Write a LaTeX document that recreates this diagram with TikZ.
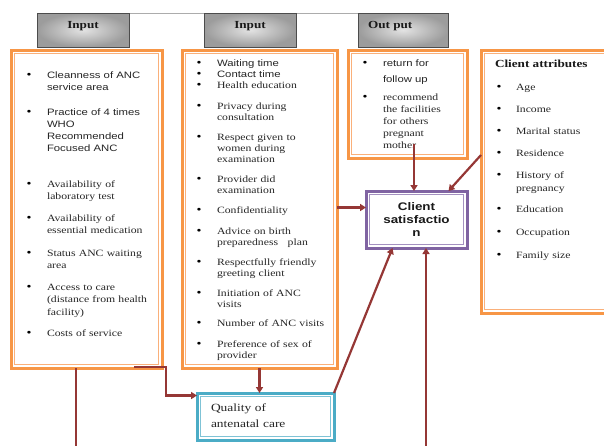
\documentclass[tikz,border=0pt]{standalone}
\usepackage{fontspec}
\setmainfont{Liberation Serif}[FakeStretch=1.22]
\setsansfont{Liberation Sans}[FakeStretch=1.22]
\usetikzlibrary{arrows.meta}
\definecolor{org}{HTML}{F79646}
\definecolor{orgl}{HTML}{FAB07A}
\definecolor{pur}{HTML}{8064A2}
\definecolor{purl}{HTML}{A491C0}
\definecolor{blu}{HTML}{4BACC6}
\definecolor{blul}{HTML}{7FC3D6}
\definecolor{arrc}{HTML}{953735}
\definecolor{txtc}{HTML}{262626}
\begin{document}
\begin{tikzpicture}[x=1pt,y=-1pt,
  every node/.style={inner sep=0pt,outer sep=0pt},
  hdr/.style={draw=gray!60!black,line width=0.8pt,inner color=gray!22,outer color=gray!78,anchor=north west},
  obox/.style={draw=org,line width=3pt,anchor=north west},
  pbox/.style={draw=pur,line width=3pt,anchor=north west,fill=white},
  bbox/.style={draw=blu,line width=3pt,anchor=north west,fill=white},
  inl/.style={line width=1.1pt},
  itm/.style={anchor=base west,text width=150pt,align=left,text=txtc},
  bul/.style={anchor=base,text=black,font=\fontsize{11.5}{12}\selectfont},
  ser/.style={font=\fontsize{9.6}{#1}\selectfont},
  sans/.style={font=\sffamily\fontsize{9.3}{#1}\selectfont},
  conn/.style={draw=arrc,line width=2.2pt},
  arw/.style={conn,-{Triangle[length=6pt,width=7pt]}},
  hdrtxt/.style={anchor=base,font=\bfseries\fontsize{10.8}{12}\selectfont,text=black!90}
]
\clip (0,0) rectangle (604,445);
\fill[white] (0,0) rectangle (604,445);

% top connecting line
\draw[gray!65,line width=1.8pt] (37,13.5) -- (448,13.5);

% header boxes
\node[hdr,minimum width=92pt,minimum height=34pt] (h1) at (37,13) {};
\node[hdr,minimum width=92pt,minimum height=34pt] (h2) at (204,13) {};
\node[hdr,minimum width=90pt,minimum height=34pt] (h3) at (358,13) {};
\node[hdrtxt] (h1t) at (83,28) {Input};
\node[hdrtxt] (h2t) at (250,28) {Input};
\node[hdrtxt,anchor=base west] (h3t) at (368,28) {Out put};

% main boxes
\node[obox,minimum width=151pt,minimum height=318pt] (in1) at (11,50) {};
\node[obox,minimum width=155pt,minimum height=318pt] (in2) at (182,50) {};
\node[obox,minimum width=119pt,minimum height=108pt] (outb) at (348,50) {};
\node[obox,minimum width=131pt,minimum height=263pt] (attr) at (481,50) {};
\node[pbox,minimum width=101pt,minimum height=57pt] (sat) at (366,191) {};
\node[bbox,minimum width=137pt,minimum height=47pt] (q) at (197,393) {};

% inner borders
\draw[inl,draw=orgl] ([shift={(3.6,3.6)}]in1.north west) rectangle ([shift={(-3.6,-3.6)}]in1.south east);
\draw[inl,draw=orgl] ([shift={(3.6,3.6)}]in2.north west) rectangle ([shift={(-3.6,-3.6)}]in2.south east);
\draw[inl,draw=orgl] ([shift={(3.6,3.6)}]outb.north west) rectangle ([shift={(-3.6,-3.6)}]outb.south east);
\draw[inl,draw=orgl] ([shift={(3.6,3.6)}]attr.north west) rectangle ([shift={(-3.6,-3.6)}]attr.south east);
\draw[inl,draw=purl] ([shift={(3.6,3.6)}]sat.north west) rectangle ([shift={(-3.6,-3.6)}]sat.south east);
\draw[inl,draw=blul] ([shift={(3.6,3.6)}]q.north west) rectangle ([shift={(-3.6,-3.6)}]q.south east);

% left box items
\foreach \y/\tx [count=\i] in {78/{Cleanness of ANC\\service area},115/{Practice of 4 times\\WHO\\Recommended\\Focused ANC}}{
  \node[bul] (lb\i) at (29,\y) {\textbullet};
  \node[itm,sans=12.3] (lt\i) at (47,\y) {\tx};
}
\foreach \y/\tx [count=\i from 3] in {187/{Availability of\\laboratory test},221/{Availability of\\essential medication},256/{Status ANC waiting\\area},290/{Access to care\\(distance from health\\facility)},336/{Costs of service}}{
  \node[bul] (lb\i) at (29,\y) {\textbullet};
  \node[itm,ser=12.5] (lt\i) at (47,\y) {\tx};
}

% second box items
\foreach \y/\tx [count=\i] in {66/{Waiting time},77/{Contact time}}{
  \node[bul] (mb\i) at (199,\y) {\textbullet};
  \node[itm,sans=11] (mt\i) at (217,\y) {\tx};
}
\foreach \y/\tx [count=\i from 3] in {88/{Health education},109/{Privacy during\\consultation},140/{Respect given to\\women during\\examination},182/{Provider did\\examination},213/{Confidentiality},234/{Advice on birth\\preparedness\quad plan},265/{Respectfully friendly\\greeting client},296/{Initiation of ANC\\visits},326/{Number of ANC visits},347/{Preference of sex of\\provider}}{
  \node[bul] (mb\i) at (199,\y) {\textbullet};
  \node[itm,ser=11] (mt\i) at (217,\y) {\tx};
}

% output box items
\node[bul] (ob1) at (365,66) {\textbullet};
\node[itm,sans=16] (ot1) at (383,66) {return for\\follow up};
\node[bul] (ob2) at (365,100) {\textbullet};
\node[itm,ser=12] (ot2) at (383,100) {recommend\\the facilities\\for others\\pregnant\\mother};

% client attributes
\node[anchor=base west,font=\bfseries\fontsize{10.8}{12}\selectfont,text=black!90] (at0) at (495,67) {Client attributes};
\foreach \y/\tx [count=\i] in {90/Age,112/Income,134/{Marital status},156/Residence,178/{History of\\pregnancy},212/Education,235/Occupation,258/{Family size}}{
  \node[bul] (ab\i) at (499,\y) {\textbullet};
  \node[itm,ser=13,text width=90pt] (at\i) at (516,\y) {\tx};
}

% satisfaction and quality text
\node[align=center,font=\sffamily\bfseries\fontsize{11}{13}\selectfont,text=black!90] (satt) at (sat.center) {Client\\satisfactio\\n};
\node[itm,font=\fontsize{11}{16}\selectfont] (qt) at (211,411) {Quality of\\antenatal care};

% connectors
\coordinate (o1) at (414,144);
\draw[arw] (o1) -- (o1 |- sat.north);
\coordinate (a1) at (481,155);
\draw[arw] (a1) -- ([xshift=32pt]sat.north);
\draw[arw] ([yshift=12pt]in2.east |- sat.west) -- ([yshift=12pt]sat.west);
\draw[arw] (q.north east) -- ([xshift=-24pt]sat.south);
\coordinate (b1) at (426,447);
\draw[arw] (b1) -- (b1 |- sat.south);
\coordinate (b2) at (76,447);
\draw[conn] (b2 |- in1.south) -- (b2);
\coordinate (e1) at (134,367);
\coordinate (e2) at (166,367);
\draw[arw] (e1) -- (e2) |- ([yshift=21pt]q.west);
\draw[arw] (in2.south) -- (in2.south |- q.north);
\end{tikzpicture}
\end{document}
